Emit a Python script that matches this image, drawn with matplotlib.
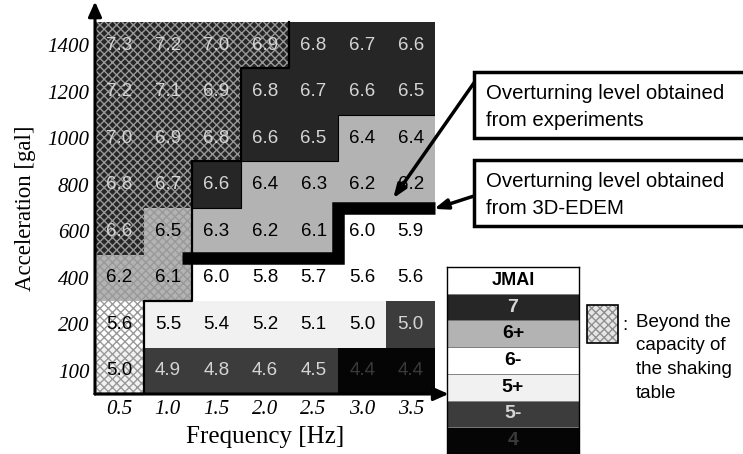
import numpy as np
import matplotlib
matplotlib.use("Agg")
import matplotlib.pyplot as plt
from matplotlib.colors import ListedColormap
from matplotlib.patches import Rectangle

plt.rcParams['font.family'] = ['Liberation Sans', 'DejaVu Sans']
plt.rcParams['hatch.linewidth'] = 1.0

freq = [0.5, 1.0, 1.5, 2.0, 2.5, 3.0, 3.5]
accel = ['100', '200', '400', '600', '800', '1000', '1200', '1400']

# JMA instrumental intensity, rows from 100 gal up to 1400 gal
jmai = [
    [5.0, 4.9, 4.8, 4.6, 4.5, 4.4, 4.4],
    [5.6, 5.5, 5.4, 5.2, 5.1, 5.0, 5.0],
    [6.2, 6.1, 6.0, 5.8, 5.7, 5.6, 5.6],
    [6.6, 6.5, 6.3, 6.2, 6.1, 6.0, 5.9],
    [6.8, 6.7, 6.6, 6.4, 6.3, 6.2, 6.2],
    [7.0, 6.9, 6.8, 6.6, 6.5, 6.4, 6.4],
    [7.2, 7.1, 6.9, 6.8, 6.7, 6.6, 6.5],
    [7.3, 7.2, 7.0, 6.9, 6.8, 6.7, 6.6],
]
# intensity class of each cell: 0='4', 1='5-', 2='5+', 3='6-', 4='6+', 5='7'
jma_class = [
    [2, 1, 1, 1, 1, 0, 0],
    [3, 2, 2, 2, 2, 2, 1],
    [4, 4, 3, 3, 3, 3, 3],
    [5, 4, 4, 4, 4, 3, 3],
    [5, 5, 5, 4, 4, 4, 4],
    [5, 5, 5, 5, 5, 4, 4],
    [5, 5, 5, 5, 5, 5, 5],
    [5, 5, 5, 5, 5, 5, 5],
]
class_names = ['4', '5-', '5+', '6-', '6+', '7']
class_colors = ['#050505', '#3c3c3c', '#f1f1f1', '#ffffff', '#b3b3b3', '#262626']
text_colors = ['#3a3a3a', '#d5d5d5', 'black', 'black', 'black', '#d5d5d5']

# first row (per frequency) beyond the capacity of the shaking table
beyond_from = [0, 2, 5, 7, 8, 8, 8]

# overturning level from 3D-EDEM (frequency, row position)
edem_f = [1.15, 2.75, 2.75, 3.75]
edem_r = [2.42, 2.42, 3.5, 3.5]

W, H = 743, 454
fig = plt.figure(figsize=(W / 100, H / 100), dpi=100)
ax = fig.add_axes([95 / W, 1 - 394 / H, 340 / W, 372 / H])

xe = np.append(np.array(freq) - 0.25, freq[-1] + 0.25)
ye = np.arange(len(accel) + 1) - 0.5
ax.pcolormesh(xe, ye, np.array(jma_class), cmap=ListedColormap(class_colors),
              vmin=-0.5, vmax=5.5)

# hatched cells beyond the table capacity
b = np.array(beyond_from)
ax.bar(freq, len(accel) - b, bottom=b - 0.5, width=0.5, fill=False,
       hatch='xxxx', edgecolor='#999999', linewidth=0)

# outline of the hatched region
px, py = [], []
for i, r in enumerate(beyond_from):
    if r >= len(accel):
        break
    px += [xe[i], xe[i + 1]]
    py += [r - 0.5, r - 0.5]
px.append(px[-1])
py.append(len(accel) - 0.5)
ax.plot(px, py, color='black', lw=1.6, clip_on=False)

# thin outline of the '7' area outside the hatched part
cls = np.array(jma_class)
qx, qy = [xe[2], xe[3], xe[3]], [3.5, 3.5, 4.5]
for i in range(len(freq)):
    if beyond_from[i] < len(accel):
        continue
    r = len(accel)
    while r > 0 and cls[r - 1, i] == 5:
        r -= 1
    qx += [xe[i], xe[i + 1]]
    qy += [r - 0.5, r - 0.5]
ax.plot(qx, qy, color='black', lw=0.8)

for r in range(len(accel)):
    for c in range(len(freq)):
        k = jma_class[r][c]
        ax.text(freq[c], r, f'{jmai[r][c]:.1f}', ha='center', va='center',
                fontsize=13.5, color=text_colors[k])

ax.plot(edem_f, edem_r, color='black', lw=9, solid_capstyle='butt',
        solid_joinstyle='miter', clip_on=False)

ax.set_xlim(xe[0], xe[-1])
ax.set_ylim(ye[0], ye[-1])
ax.set_xticks(freq)
ax.set_xticklabels([f'{f:.1f}' for f in freq])
ax.set_yticks(range(len(accel)))
ax.set_yticklabels(accel)
for lab in ax.get_xticklabels() + ax.get_yticklabels():
    lab.set_family('Liberation Serif')
    lab.set_style('italic')
    lab.set_fontsize(15)
ax.tick_params(length=0, pad=4)
for s in ax.spines.values():
    s.set_visible(False)

ax.set_xlabel('Frequency [Hz]', family='Liberation Serif', fontsize=18, labelpad=5)
ax.set_ylabel('Acceleration [gal]', family='Liberation Serif', fontsize=16.5, labelpad=8)

# axes drawn as arrows
ax.annotate('', xy=(0, 1.055), xytext=(0, 0), xycoords='axes fraction',
            arrowprops=dict(arrowstyle='-|>,head_length=0.9,head_width=0.4',
                            lw=2.2, color='black', shrinkA=0, shrinkB=0))
ax.annotate('', xy=(1.04, 0), xytext=(0, 0), xycoords='axes fraction',
            arrowprops=dict(arrowstyle='-|>,head_length=0.9,head_width=0.4',
                            lw=2.2, color='black', shrinkA=0, shrinkB=0))

# text boxes with arrows
for top, txt in [(72, 'Overturning level obtained\nfrom experiments'),
                 (160, 'Overturning level obtained\nfrom 3D-EDEM')]:
    fig.patches.append(Rectangle((474 / W, 1 - (top + 66) / H), 290 / W, 66 / H,
                                 transform=fig.transFigure, facecolor='white',
                                 edgecolor='black', lw=2.5))
    fig.text(486 / W, 1 - (top + 35) / H, txt, fontsize=14.7, va='center',
             ha='left', linespacing=1.5)

ax.annotate('', xy=(3.32, 3.71), xycoords='data',
            xytext=(476 / W, 1 - 80 / H), textcoords='figure fraction',
            arrowprops=dict(arrowstyle='-|>,head_length=0.8,head_width=0.3',
                            lw=2.5, color='black', shrinkA=0, shrinkB=0))
ax.annotate('', xy=(3.74, 3.48), xycoords='data',
            xytext=(474 / W, 1 - 196 / H), textcoords='figure fraction',
            arrowprops=dict(arrowstyle='-|>,head_length=0.8,head_width=0.3',
                            lw=2.5, color='black', shrinkA=0, shrinkB=0))

# JMAI legend
leg = fig.add_axes([447 / W, 0, 132 / W, (H - 267) / H])
n = len(class_names)
leg.barh(range(n), 1, height=1, left=0, color=class_colors,
         edgecolor='#7a7a7a', lw=0.6)
leg.text(0.5, n, 'JMAI', ha='center', va='center', fontsize=13, fontweight='bold')
for i, name in enumerate(class_names):
    leg.text(0.5, i, name, ha='center', va='center', fontsize=14,
             fontweight='bold', color=text_colors[i])
leg.set_xlim(0, 1)
leg.set_ylim(-0.5, n + 0.5)
leg.set_xticks([])
leg.set_yticks([])
for s in leg.spines.values():
    s.set_linewidth(1.0)

# beyond capacity swatch
fig.patches.append(Rectangle((587 / W, 1 - 343 / H), 31 / W, 38 / H,
                             transform=fig.transFigure, facecolor='#e6e6e6',
                             hatch='xxxx', edgecolor='#8f8f8f', lw=0))
fig.patches.append(Rectangle((587 / W, 1 - 343 / H), 31 / W, 38 / H,
                             transform=fig.transFigure, fill=False,
                             edgecolor='black', lw=1.2))
fig.text(622 / W, 1 - 326 / H, ':', fontsize=13.5, va='center')
fig.text(636 / W, 1 - 314 / H, 'Beyond the\ncapacity of\nthe shaking\ntable',
         fontsize=13.5, va='top', linespacing=1.5)

fig.savefig('out.png', dpi=100)
